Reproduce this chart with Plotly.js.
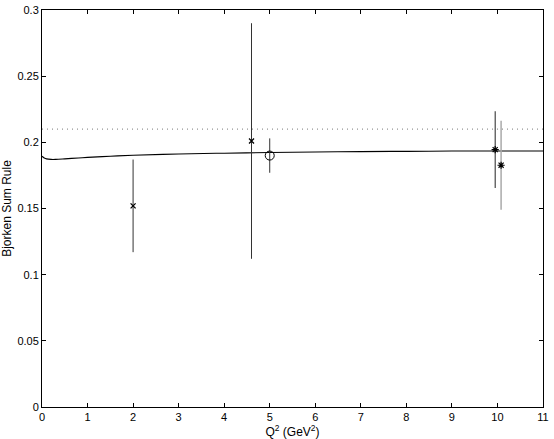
<!DOCTYPE html>
<html>
<head>
<meta charset="utf-8">
<script src="https://cdn.plot.ly/plotly-3.0.1.min.js"></script>
<style>html,body{margin:0;padding:0;background:#fff;}#chart{width:554px;height:439px;}</style>
</head>
<body>
<div id="chart"></div>
<script>
// Theory curve
const curveQ2 = [0, 0.05, 0.1, 0.2, 0.3, 0.5, 0.8, 1, 1.5, 2, 3, 4, 5, 6, 7, 8, 9, 10, 11];
const curveBj = [0.1895, 0.1882, 0.1875, 0.1871, 0.1871, 0.1875, 0.1882, 0.1886, 0.1895, 0.1902, 0.1912, 0.1918, 0.1923, 0.1927, 0.1930, 0.1932, 0.1934, 0.1935, 0.1935];
// Asymptotic value (dotted)
const asymQ2 = [0, 11];
const asymBj = [0.21, 0.21];
// Data sets
const crossQ2 = [2.0, 4.6];
const crossBj = [0.152, 0.201];
const crossErr = [0.035, 0.089];
const circQ2 = [5.0];
const circBj = [0.190];
const circErr = [0.013];
const starQ2 = [9.95];
const starBj = [0.1945];
const starErr = [0.029];
const star2Q2 = [10.08];
const star2Bj = [0.1827];
const star2Err = [0.0337];

const xTicks = [0,1,2,3,4,5,6,7,8,9,10,11];
const yTicks = [0,0.05,0.1,0.15,0.2,0.25,0.3];
const yTickText = ['0','0.05','0.1','0.15','0.2','0.25','0.3'];

const traces = [
  {x: asymQ2, y: asymBj, mode: 'lines', line: {color: '#777', width: 1, dash: '1px,4px'}, hoverinfo: 'skip'},
  {x: curveQ2, y: curveBj, mode: 'lines', line: {color: '#000', width: 1.1, shape: 'spline'}},
  {x: crossQ2, y: crossBj, mode: 'markers', marker: {symbol: 'x-thin-open', size: 5, color: '#000', line: {width: 1.3, color: '#000'}},
   error_y: {type: 'data', array: crossErr, visible: true, width: 0, thickness: 1, color: '#333'}},
  {x: circQ2, y: circBj, mode: 'markers', marker: {symbol: 'circle-open', size: 9, color: '#000', line: {width: 1, color: '#000'}},
   error_y: {type: 'data', array: circErr, visible: true, width: 0, thickness: 1, color: '#333'}},
  {x: star2Q2, y: star2Bj, mode: 'markers', marker: {symbol: 'asterisk-open', size: 6, color: '#000', line: {width: 1.2, color: '#000'}},
   error_y: {type: 'data', array: star2Err, visible: true, width: 0, thickness: 1.5, color: '#aaa'}},
  {x: starQ2, y: starBj, mode: 'markers', marker: {symbol: 'asterisk-open', size: 6, color: '#000', line: {width: 1.2, color: '#000'}},
   error_y: {type: 'data', array: starErr, visible: true, width: 0, thickness: 1, color: '#222'}}
];

const layout = {
  width: 554, height: 439,
  margin: {l: 42, r: 11, t: 10, b: 32},
  paper_bgcolor: '#fff', plot_bgcolor: '#fff',
  showlegend: false,
  font: {family: 'Liberation Sans, Arial, sans-serif', size: 11, color: '#000'},
  xaxis: {
    range: [0, 11], tickvals: xTicks, ticks: 'inside', ticklen: 4, tickcolor: '#000',
    showline: true, linecolor: '#000', linewidth: 1, mirror: 'ticks', showgrid: false, zeroline: false,
    title: {text: 'Q<sup>2</sup> (GeV<sup>2</sup>)', standoff: 2, font: {size: 12}}
  },
  yaxis: {
    range: [0, 0.3], tickvals: yTicks, ticktext: yTickText, ticks: 'inside', ticklen: 4, tickcolor: '#000',
    showline: true, linecolor: '#000', linewidth: 1, mirror: 'ticks', showgrid: false, zeroline: false,
    title: {text: 'Bjorken Sum Rule', standoff: 5, font: {size: 12}}
  }
};

Plotly.newPlot('chart', traces, layout, {displayModeBar: false, staticPlot: true});
</script>
</body>
</html>
